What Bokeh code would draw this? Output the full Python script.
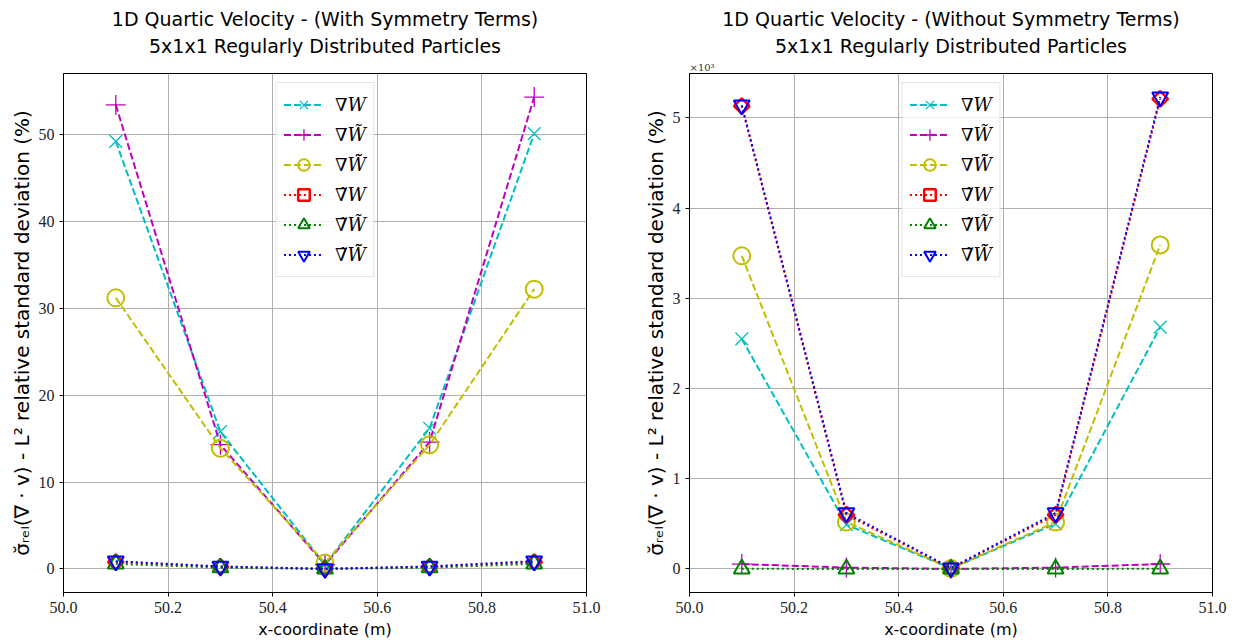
import numpy as np
from bokeh.plotting import figure
from bokeh.layouts import row
from bokeh.models import Title, Legend, LegendItem, Range1d
from bokeh.embed import file_html
from bokeh.resources import INLINE

# ---------------- data ----------------
x_coords = [50.1, 50.3, 50.5, 50.7, 50.9]
series_labels = ["∇W", "∇W\u0303", "∇W\u0303\u0303", "∇\u0303W", "∇\u0303W\u0303", "∇\u0303W\u0303\u0303"]

left_grad_W = [49.2, 15.8, 0.5, 16.2, 50.1]
left_grad_Wt = [53.4, 14.3, 0.5, 14.6, 54.3]
left_grad_Wtt = [31.2, 13.9, 0.7, 14.3, 32.2]
left_tgrad_W = [0.8, 0.25, 0.02, 0.25, 0.8]
left_tgrad_Wt = [0.6, 0.15, 0.01, 0.15, 0.6]
left_tgrad_Wtt = [0.9, 0.3, 0.02, 0.3, 0.9]

right_grad_W = [2550, 490, 5, 500, 2680]
right_grad_Wt = [53.4, 14.3, 0.5, 14.6, 54.3]
right_grad_Wtt = [3470, 520, 5, 520, 3590]
right_tgrad_W = [5130, 600, 5, 600, 5210]
right_tgrad_Wt = [0.6, 0.15, 0.01, 0.15, 0.6]
right_tgrad_Wtt = [5140, 620, 10, 620, 5230]

x_ticks = [50.0, 50.2, 50.4, 50.6, 50.8, 51.0]
x_tick_labels = ["50.0", "50.2", "50.4", "50.6", "50.8", "51.0"]
left_y_ticks = [0, 10, 20, 30, 40, 50]
left_y_tick_labels = ["0", "10", "20", "30", "40", "50"]
right_y_ticks = [0, 1000, 2000, 3000, 4000, 5000]
right_y_tick_labels = ["0", "1", "2", "3", "4", "5"]

left_title = "1D Quartic Velocity - (With Symmetry Terms)"
right_title = "1D Quartic Velocity - (Without Symmetry Terms)"
subtitle = "5x1x1 Regularly Distributed Particles"
x_label = "x-coordinate (m)"
y_label = "σ\u0306ᵣₑₗ(∇ · v) - L² relative standard deviation (%)"
offset_text = "×10³"

# ---------------- styles ----------------
styles = [
    dict(color="#00BFBF", dash="7 3", marker="x", size=18, lw=1.3),
    dict(color="#BF00BF", dash="7 3", marker="cross", size=20, lw=1.3),
    dict(color="#BFBF00", dash="7 3", marker="circle", size=17, lw=2),
    dict(color="#FF0000", dash="2 3", marker="square", size=11, lw=2.5, angle=np.pi / 4),
    dict(color="#008000", dash="2 3", marker="triangle", size=16, lw=2),
    dict(color="#0000FF", dash="2 3", marker="inverted_triangle", size=16, lw=2),
]

FRAME_W, FRAME_H = 523, 519


def make_fig(title_text, series, y_ticks, y_tick_labels, border_left, border_right, offset=None):
    allv = [v for s in series for v in s]
    lo, hi = min(allv), max(allv)
    pad = 0.05 * (hi - lo)
    p = figure(frame_width=FRAME_W, frame_height=FRAME_H,
               x_range=Range1d(50.0, 51.0), y_range=Range1d(lo - pad, hi + pad),
               output_backend="svg", toolbar_location=None, title=None,
               min_border_left=border_left, min_border_right=border_right,
               min_border_top=73, min_border_bottom=52)
    p.background_fill_color = "white"
    p.border_fill_color = "white"
    p.outline_line_color = "black"
    p.outline_line_width = 1
    p.outline_line_alpha = 1

    # titles (first added sits closest to the frame)
    if offset:
        p.add_layout(Title(text=offset, align="left", text_font="DejaVu Serif",
                           text_font_size="10px", text_font_style="normal",
                           text_line_height=1.0,
                           text_color="#333333", standoff=2), "above")
    else:
        p.add_layout(Title(text=" ", align="left", text_font="DejaVu Sans",
                           text_font_size="1px", text_line_height=1.0,
                           standoff=12), "above")
    p.add_layout(Title(text=subtitle, align="center", text_font="DejaVu Sans",
                       text_font_size="19px", text_font_style="normal",
                       text_line_height=1.0,
                       text_color="black", standoff=3), "above")
    p.add_layout(Title(text=title_text, align="center", text_font="DejaVu Sans",
                       text_font_size="19px", text_font_style="normal",
                       text_line_height=1.0,
                       text_color="black", standoff=3), "above")

    # axes
    p.xaxis.ticker = x_ticks
    p.xaxis.major_label_overrides = dict(zip(x_ticks, x_tick_labels))
    p.yaxis.ticker = y_ticks
    p.yaxis.major_label_overrides = dict(zip(y_ticks, y_tick_labels))
    for ax in (p.xaxis, p.yaxis):
        ax.major_label_text_font = "Liberation Serif"
        ax.major_label_text_font_size = "16px"
        ax.major_label_text_color = "#222222"
        ax.axis_label_text_font = "DejaVu Sans"
        ax.axis_label_text_font_style = "normal"
        ax.axis_label_text_color = "black"
        ax.major_tick_in = 0
        ax.major_tick_out = 4
        ax.minor_tick_line_color = None
        ax.axis_line_color = "black"
        ax.major_tick_line_color = "black"
    p.xaxis.axis_label_text_font_size = "16px"
    p.yaxis.axis_label_text_font_size = "20px"
    p.xaxis.axis_label = x_label
    p.yaxis.axis_label = y_label
    p.xaxis.axis_label_standoff = 4
    p.yaxis.axis_label_standoff = 2

    p.grid.grid_line_color = "#b0b0b0"
    p.grid.grid_line_width = 1
    p.grid.grid_line_alpha = 1

    items = []
    for vals, st, lab in zip(series, styles, series_labels):
        lr = p.line(x_coords, vals, line_color=st["color"], line_width=2,
                    line_dash=st["dash"])
        sr = p.scatter(x_coords, vals, marker=st["marker"], size=st["size"],
                       line_color=st["color"], line_width=st["lw"],
                       fill_color=None, angle=st.get("angle", 0.0))
        items.append(LegendItem(label=lab, renderers=[lr, sr]))

    legend = Legend(items=items, location="top_center",
                    label_text_font="DejaVu Serif", label_text_font_style="italic",
                    label_text_font_size="18px", label_text_color="black",
                    glyph_width=40, glyph_height=29, label_height=24,
                    spacing=1, padding=7, margin=9, label_standoff=12,
                    border_line_color="#cccccc", border_line_width=1,
                    background_fill_color="white", background_fill_alpha=0.8)
    p.add_layout(legend)
    return p


left_series = [left_grad_W, left_grad_Wt, left_grad_Wtt, left_tgrad_W, left_tgrad_Wt, left_tgrad_Wtt]
right_series = [right_grad_W, right_grad_Wt, right_grad_Wtt, right_tgrad_W, right_tgrad_Wt, right_tgrad_Wtt]

p1 = make_fig(left_title, left_series, left_y_ticks, left_y_tick_labels, 63, 31)
p2 = make_fig(right_title, right_series, right_y_ticks, right_y_tick_labels, 72, 23, offset=offset_text)

layout = row(p1, p2, spacing=0)
open("out.html", "w").write(file_html(layout, INLINE))
